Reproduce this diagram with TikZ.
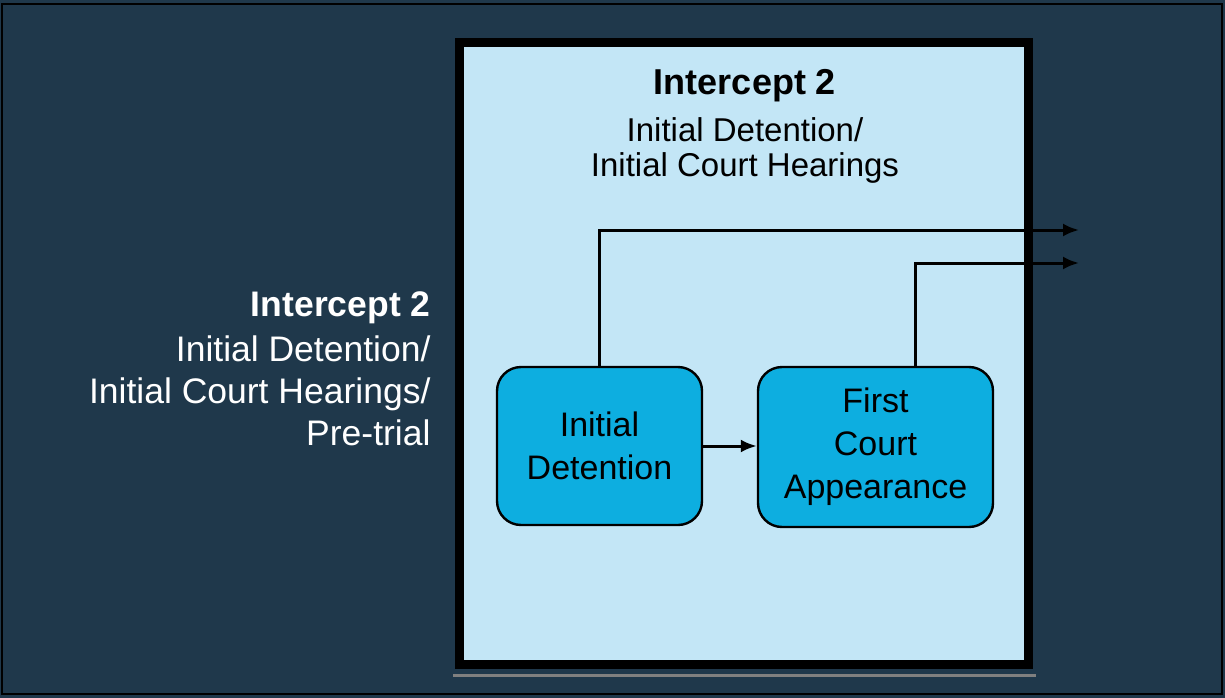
\documentclass[tikz,border=0pt]{standalone}
\usepackage{fontspec}
\setmainfont{Liberation Sans}
\usetikzlibrary{positioning,arrows.meta}

\definecolor{navy}{RGB}{31,56,75}
\definecolor{paleblue}{RGB}{195,230,246}
\definecolor{stageblue}{RGB}{13,174,224}

\tikzset{
  stage/.style={draw, line width=2.4pt, rounded corners=24pt, fill=stageblue,
    align=center, font=\fontsize{34}{43}\selectfont, inner sep=0pt},
  flow/.style={draw, line width=3pt, -{Latex[length=16pt,width=13pt]}},
}

\begin{document}
\begin{tikzpicture}[x=1pt, y=-1pt]
\useasboundingbox (0,0) rectangle (1225,698);
\fill[navy] (0,0) rectangle (1225,698);
\draw[black, line width=2pt] (2,4) rectangle (1222,694);

% intercept frame
\draw[gray, line width=3pt] (453,675) -- (1036,675);
\draw[black, line width=9pt, fill=paleblue] (459.5,42.5) rectangle (1028.5,664);

\node[font=\fontsize{36}{40}\selectfont\bfseries] (title) at (745,86) {Intercept 2};
\node[align=center, font=\fontsize{33}{35}\selectfont] (subtitle) at (745,150) {Initial Detention/\\Initial Court Hearings};

% left label
\node[align=right, anchor=east, text=white, font=\fontsize{35.5}{42}\selectfont] (label) at (434,369)
  {\textbf{Intercept 2}\\[3pt]Initial Detention/\\Initial Court Hearings/\\Pre-trial};

% stages
\node[stage, minimum width=205pt, minimum height=158pt] (detain) at (599.5,446) {Initial\\Detention};
\node[stage, minimum width=235pt, minimum height=160pt] (court) at (875.5,447) {First\\Court\\Appearance};

\coordinate (exit1) at (1079,230);
\coordinate (exit2) at (1079,263);

\path[flow] (detain.east) -- (detain.east -| court.west);
\path[flow] (detain.north) |- (exit1);
\path[flow] ([xshift=40pt]court.north) |- (exit2);

\end{tikzpicture}
\end{document}
